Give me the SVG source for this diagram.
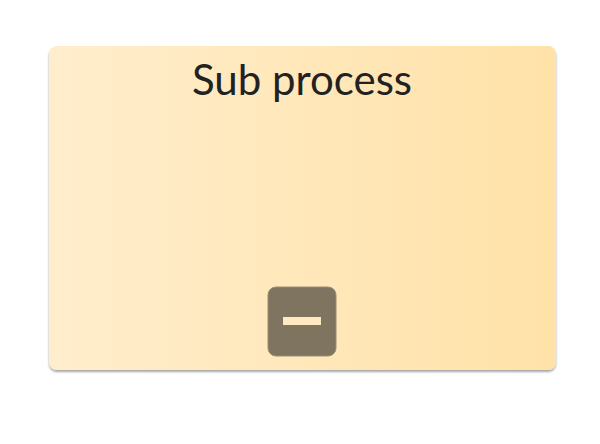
<svg xmlns="http://www.w3.org/2000/svg" width="600" height="444" viewBox="0 0 600 444">
  <defs>
    <linearGradient id="bg" x1="0" y1="0" x2="1" y2="0">
      <stop offset="0" stop-color="#FFEDCC"/>
      <stop offset="1" stop-color="#FFE2A8"/>
    </linearGradient>
    <filter id="sh" x="-5%" y="-5%" width="110%" height="115%">
      <feGaussianBlur in="SourceAlpha" stdDeviation="1"/>
      <feOffset dx="0" dy="2"/>
      <feComponentTransfer><feFuncA type="linear" slope="0.35"/></feComponentTransfer>
      <feMerge><feMergeNode/><feMergeNode in="SourceGraphic"/></feMerge>
    </filter>
    <style>
      .title { font-family: Lato, "Liberation Sans", sans-serif; font-size: 42px; fill: #222222; }
    </style>
  </defs>
  <rect width="600" height="444" fill="#ffffff"/>
  <g id="subprocess">
    <rect x="49" y="46" width="507" height="324" rx="8" ry="8" fill="url(#bg)" filter="url(#sh)"/>
    <text class="title" x="302" y="95" text-anchor="middle">Sub process</text>
  </g>
  <g id="collapse-button">
    <rect x="268" y="287" width="68" height="69" rx="8" ry="8" fill="#7F745F" stroke="#9a8d72" stroke-width="1"/>
    <rect x="283" y="317" width="38" height="8" fill="#FFE9C0"/>
  </g>
  <g id="connectors"/>
</svg>
